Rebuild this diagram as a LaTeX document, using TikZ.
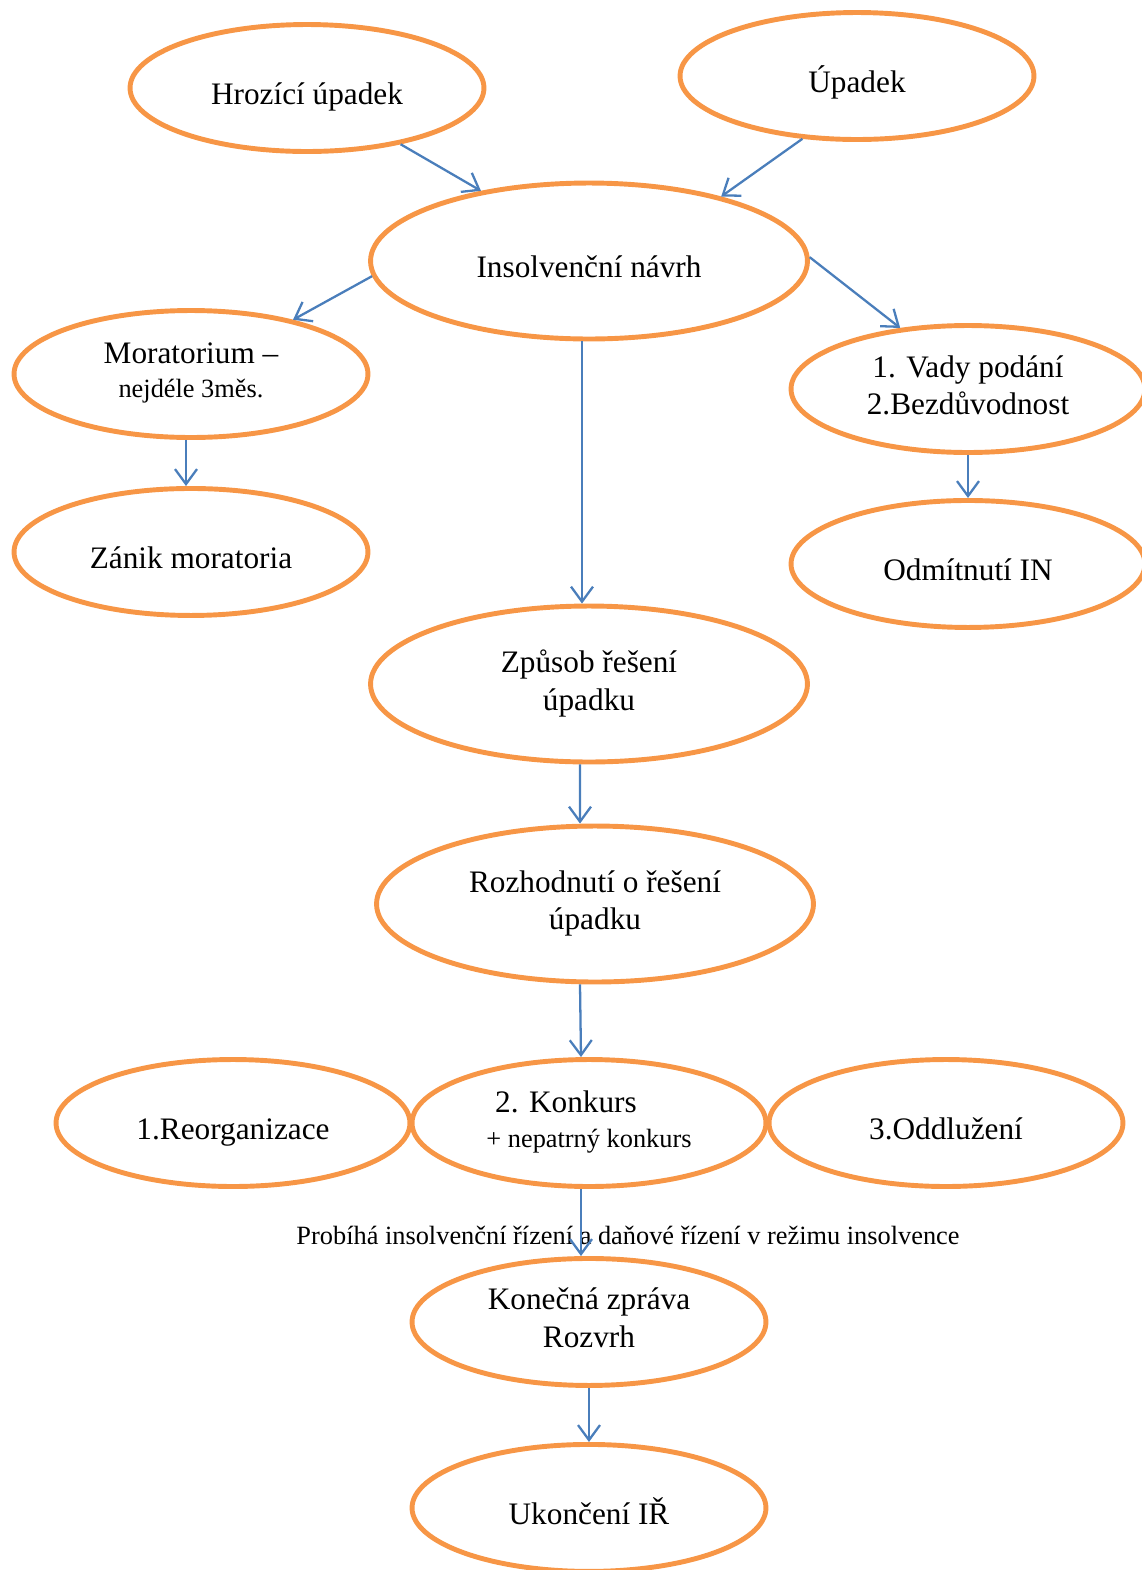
\documentclass[tikz,border=0pt]{standalone}
\usepackage{fontspec}
\setmainfont{Liberation Serif}
\usetikzlibrary{shapes.geometric,arrows.meta}
\definecolor{accentorange}{HTML}{F79646}
\definecolor{accentblue}{HTML}{4A7EBB}

\begin{document}
\begin{tikzpicture}[
    x=0.02cm, y=-0.02cm,
    stage/.style={ellipse, draw=accentorange, line width=2.8pt, minimum width=7.08cm, minimum height=2.54cm, inner sep=0pt, align=center, font=\fontsize{17.8}{21.6}\selectfont,
        execute at begin node={\rule{0pt}{1.3em}}, execute at end node={\rule[-0.25em]{0pt}{0pt}}},
    bigstage/.style={stage, minimum width=8.74cm, minimum height=3.12cm},
    smalltext/.style={font=\fontsize{15}{18}\selectfont},
    arrow/.style={-{Straight Barb[length=3mm,width=4.4mm]}, draw=accentblue, line width=1.3pt}
]
\useasboundingbox (0,0) rectangle (1142,1570);

\node[stage] (hrozici) at (307,88) {Hrozící úpadek};
\node[stage] (upadek) at (857,76) {Úpadek};
\node[bigstage] (navrh) at (589,261) {Insolvenční návrh};
\node[stage] (moratorium) at (191,374) {Moratorium –\\[-2pt]{\fontsize{15}{18}\selectfont nejdéle 3měs.}};
\node[stage] (vady) at (968,389) {1. Vady podání\\2.Bezdůvodnost};
\node[stage, below of=moratorium, node distance=3.56cm] (zanik) {Zánik moratoria};
\node[stage, below of=vady, node distance=3.5cm] (odmitnuti) {Odmítnutí IN};
\node[bigstage] (zpusob) at (589,684) {Způsob řešení\\úpadku};
\node[bigstage] (rozhodnuti) at (595,904) {Rozhodnutí o řešení\\úpadku};
\node[stage] (reorg) at (233,1123) {1.Reorganizace};
\node[stage] (konkurs) at (589,1123) {2. Konkurs\hspace*{0.92cm}\\[-2pt]{\fontsize{15}{18}\selectfont + nepatrný konkurs}};
\node[stage] (oddluzeni) at (946,1123) {3.Oddlužení};
\node[smalltext] (prubeh) at (628,1235) {Probíhá insolvenční řízení a daňové řízení v režimu insolvence};
\node[stage, below of=konkurs, node distance=3.98cm] (zprava) {Konečná zpráva\\Rozvrh};
\node[stage, below of=zprava, node distance=3.72cm] (ukonceni) {Ukončení IŘ};

\draw[arrow] (hrozici.-31) -- (navrh.147);
\draw[arrow] (upadek.-131) -- (navrh.26);
\draw[arrow] (navrh.184) -- (moratorium.28);
\draw[arrow] (navrh.1) -- (vady.138);
\draw[arrow] ([xshift=-0.1cm]moratorium.south) -- ([xshift=-0.1cm]zanik.north);
\draw[arrow] (vady.south) -- (odmitnuti.north);
\draw[arrow] ([xshift=-0.14cm]navrh.south) -- ([xshift=-0.14cm]zpusob.north);
\draw[arrow] ([xshift=-0.18cm]zpusob.south) -- ([xshift=-0.3cm]rozhodnuti.north);
\draw[arrow] ([xshift=-0.3cm]rozhodnuti.south) -- ([xshift=-0.16cm]konkurs.north);
\draw[arrow] ([xshift=-0.16cm]konkurs.south) -- ([xshift=-0.16cm]zprava.north);
\draw[arrow] (zprava.south) -- (ukonceni.north);

\end{tikzpicture}
\end{document}
